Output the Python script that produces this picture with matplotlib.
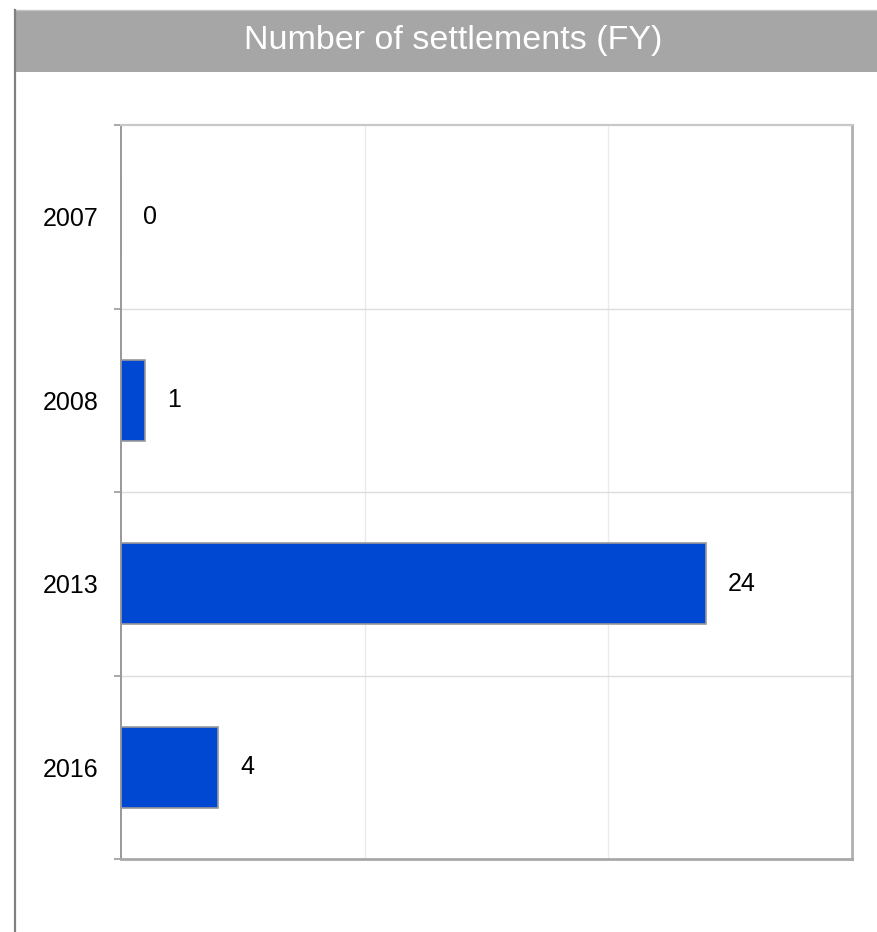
import matplotlib
matplotlib.use("Agg")
import matplotlib.pyplot as plt
from matplotlib.patches import Rectangle
from matplotlib.lines import Line2D
import numpy as np

plt.rcParams['font.family'] = ['Liberation Sans', 'DejaVu Sans']

title = "Number of settlements (FY)"
categories = ["2007", "2008", "2013", "2016"]
values = [0, 1, 24, 4]
x_max = 30
grid_ticks = [10, 20]

W, H = 877, 932
fig = plt.figure(figsize=(W / 100, H / 100), dpi=100)
fig.patch.set_facecolor("white")

# Title bar and frame lines (figure pixel coordinates)
def fx(px):
    return px / W

def fy(py):
    return 1 - py / H

fig.patches.append(Rectangle((fx(15), fy(72)), fx(W) - fx(15), fy(10) - fy(72),
                             transform=fig.transFigure, facecolor="#a6a6a6",
                             edgecolor="none", zorder=0))
fig.lines.append(Line2D([fx(15), 1], [fy(9.5), fy(9.5)], transform=fig.transFigure,
                        color="#c4c4c4", lw=1))
fig.lines.append(Line2D([fx(15), fx(15)], [fy(10), 0], transform=fig.transFigure,
                        color="#808080", lw=1.6))
fig.text(fx(453), fy(41), title, ha="center", va="center", color="white",
         fontsize=24.5)

ax = fig.add_axes([121 / W, 1 - 859 / H, (852 - 121) / W, (859 - 125) / H])
y = np.arange(len(categories))
ax.barh(y, values, height=0.44, color="#0048d2", edgecolor="#9a9a9a",
        linewidth=1.2, zorder=3)
ax.set_xlim(0, x_max)
ax.set_ylim(len(categories) - 0.5, -0.5)

ax.set_yticks(y)
ax.set_yticklabels(categories, fontsize=18)
ax.set_yticks(np.arange(-0.5, len(categories)), minor=True)
ax.tick_params(axis="y", which="major", length=0, pad=16)
ax.tick_params(axis="y", which="minor", length=5, width=1.2, color="#999999")
ax.set_xticks(grid_ticks)
ax.tick_params(axis="x", which="both", length=0, labelbottom=False)

for gx in grid_ticks:
    ax.axvline(gx, color="#ebebeb", lw=1, zorder=1)
for gy in np.arange(0.5, len(categories) - 1):
    ax.axhline(gy, color="#dddddd", lw=1, zorder=1)

for yi, v in zip(y, values):
    ax.annotate(str(v), (v, yi), xytext=(16, 0), textcoords="offset points",
                ha="left", va="center", fontsize=18, color="black")

ax.spines["left"].set_color("#999999")
ax.spines["left"].set_linewidth(1.4)
ax.spines["bottom"].set_color("#a8a8a8")
ax.spines["bottom"].set_linewidth(2)
ax.spines["top"].set_color("#c8c8c8")
ax.spines["top"].set_linewidth(1.6)
ax.spines["right"].set_color("#b0b0b0")
ax.spines["right"].set_linewidth(2)

fig.savefig("out.png", dpi=100, facecolor="white")
